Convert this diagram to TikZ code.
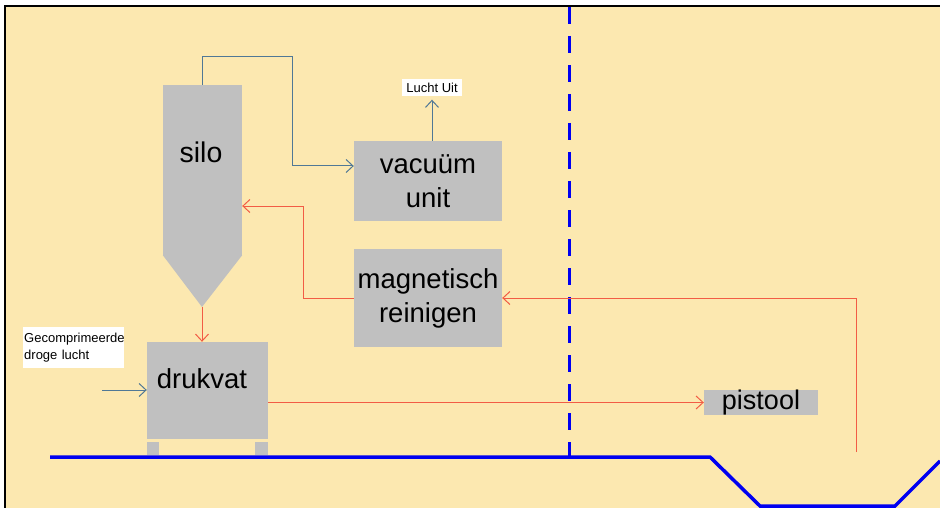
\documentclass[tikz,border=0pt]{standalone}
\usepackage{fontspec}
\setmainfont{Liberation Sans}
\usetikzlibrary{arrows.meta,calc}
\definecolor{bg}{RGB}{252,232,176}
\definecolor{boxgrey}{RGB}{192,192,192}
\definecolor{airline}{RGB}{80,120,150}
\definecolor{redline}{RGB}{242,92,69}
\definecolor{rail}{RGB}{0,0,240}
\tikzset{
  unitbox/.style={fill=boxgrey,draw=none,inner sep=0pt,align=center,font=\fontsize{27.5}{34}\selectfont},
  bigtext/.style={inner sep=0pt,font=\fontsize{27.5}{34}\selectfont},
  smalllabel/.style={fill=white,inner sep=1pt,align=left,font=\fontsize{13}{17}\selectfont},
  airflow/.style={draw=airline,line width=1pt,-{Straight Barb[length=7pt,width=13pt]}},
  redflow/.style={draw=redline,line width=1pt,-{Straight Barb[length=7pt,width=13pt]}},
  railline/.style={draw=rail,line width=3.5pt},
}
\begin{document}
\begin{tikzpicture}[x=1pt,y=-1pt]
\useasboundingbox (0,0) rectangle (940,508);
\fill[white] (0,0) rectangle (940,508);
\fill[bg] (5,6) rectangle (940,508);
\draw[black,line width=1.5pt] (5,508) -- (5,6) -- (940,6);
% rail
\coordinate (g1) at (50,457);
\coordinate (g2) at (710,457);
\coordinate (g3) at (760,506);
\coordinate (g4) at (895,506);
\coordinate (g5) at (940,461);
\draw[railline] (g1) -- (g2) -- (g3) -- (g4) -- (g5);
\coordinate (d1) at (569,7);
\coordinate (d2) at (569,457);
\draw[draw=rail,line width=3pt,dash pattern=on 17pt off 12pt] (d1) -- (d2);
% silo
\node[fill=boxgrey,minimum width=79pt,minimum height=170pt,inner sep=0pt] (silo) at (202.5,170) {};
\coordinate (tip) at (202,307);
\fill[boxgrey] (silo.south west) -- (tip) -- (silo.south east) -- cycle;
\node[inner sep=0pt,font=\fontsize{28.5}{34}\selectfont] (silot) at (201,152) {silo};
% units
\node[unitbox,minimum width=148pt,minimum height=80pt] (vac) at (428,181) {vacuüm\\unit};
\node[unitbox,minimum width=148pt,minimum height=98pt] (mag) at (428,298) {magnetisch\\reinigen};
\node[unitbox,minimum width=121pt,minimum height=97pt] (druk) at (207.5,390.5) {};
\node[bigtext] (drukt) at (202,379) {drukvat};
\node[fill=boxgrey,minimum width=12pt,minimum height=13pt,inner sep=0pt] (leg1) at (153,448.5) {};
\node[fill=boxgrey,minimum width=13pt,minimum height=13pt,inner sep=0pt] (leg2) at (261.5,448.5) {};
\node[fill=boxgrey,minimum width=114pt,minimum height=23pt,inner sep=0pt,font=\fontsize{27}{30}\selectfont] (pist) at (761,402.5) {pistool};
% labels
\node[smalllabel,minimum width=60pt,minimum height=17pt,align=center] (lucht) at (432,88) {Lucht Uit};
\node[smalllabel,minimum width=101pt,minimum height=41pt,anchor=north west,text width=99pt] (gas) at (23,327) {Gecomprimeerde\\droge lucht};
% air connectors
\coordinate (v1) at (292,57);
\draw[airflow] (silo.north) |- (v1) |- ($(vac.west)+(0,-15)$);
\draw[airflow] (lucht.south |- vac.north) -- ($(lucht.south)+(0,3)$);
\coordinate (g0) at (102,390);
\draw[airflow] (g0) -- (g0 -| druk.west);
% red connectors
\coordinate (r1) at (303,206);
\draw[redflow] (mag.west) -| (r1) -- (r1 -| silo.east);
\draw[redflow] (tip) -- (tip |- druk.north);
\draw[redflow] (pist.west -| druk.east) -- (pist.west);
\coordinate (p0) at (856,452);
\draw[redflow] (p0) |- (mag.east);
\end{tikzpicture}
\end{document}
